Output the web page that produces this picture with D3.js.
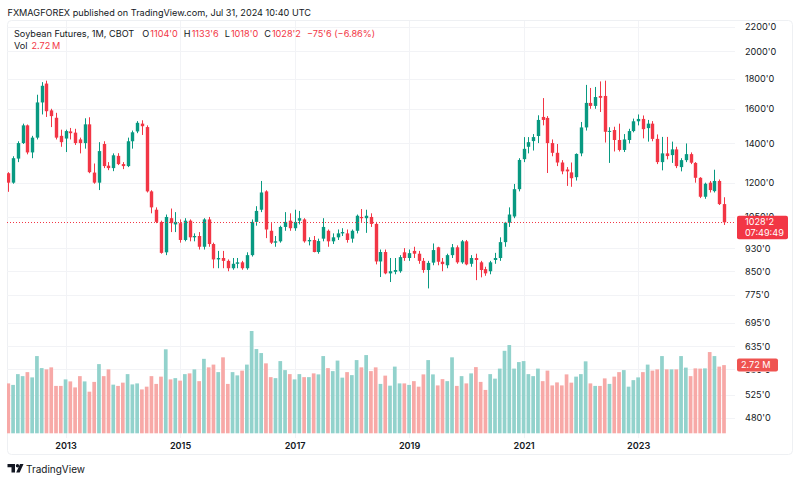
<!DOCTYPE html>
<html><head><meta charset="utf-8">
<script src="https://cdn.jsdelivr.net/npm/d3@7"></script>
<style>html,body{margin:0;padding:0;background:#fff;}svg{display:block;font-family:Inter,"Noto Sans",sans-serif;}</style>
</head><body><svg id="c" width="800" height="482"></svg>
<script>
// ---- data (monthly, Jan 2012 .. Jul 2024) ----
const startYear = 2012;
const opens = [
1245,1200,1318,1400,1500,1350,1430,1640,1765,1590,1545,1440,
1425,1465,1458,1420,1400,1506,1248,1200,1395,1282,1270,1332,
1290,1280,1410,1465,1510,1490,1160,1080,1030,915,1045,1020,
1025,960,1035,970,975,935,1040,945,890,895,885,860,
875,880,860,905,1030,1080,1160,995,950,955,1010,1035,
1005,1035,1040,955,960,916,965,995,955,970,985,985,
965,995,1050,1045,1050,1022,883,916,843,848,850,915,
895,920,910,885,854,879,933,882,870,905,933,880,
955,875,895,880,857,850,888,895,952,1027,1052,1170,
1315,1380,1411,1439,1550,1544,1400,1348,1298,1263,1249,1226,
1345,1488,1637,1618,1682,1682,1463,1473,1417,1363,1417,1467,
1524,1538,1484,1510,1423,1300,1345,1336,1366,1275,1310,1341,
1296,1223,1136,1200,1161,1208,1104];
const highs = [
1250,1330,1410,1510,1505,1440,1690,1775,1785,1600,1575,1475,
1475,1485,1480,1430,1542,1548,1293,1405,1410,1300,1345,1346,
1300,1430,1470,1525,1530,1500,1165,1090,1035,1060,1085,1070,
1040,1045,1040,985,990,1045,1050,950,920,920,890,895,
895,885,915,1040,1095,1208,1165,1025,975,1015,1070,1065,
1080,1075,1045,970,975,965,1045,1000,985,1000,1005,1000,
1000,1060,1083,1080,1065,1030,925,925,895,895,905,930,
925,935,920,895,885,947,935,895,910,945,940,960,
960,905,910,885,865,885,913,970,1030,1090,1194,1320,
1433,1433,1450,1560,1668,1555,1420,1395,1310,1275,1298,1345,
1520,1756,1735,1742,1780,1785,1489,1492,1510,1450,1480,1540,
1565,1559,1532,1525,1448,1434,1434,1408,1380,1320,1398,1350,
1300,1226,1200,1208,1262,1215,1133.75];
const lows = [
1158,1195,1300,1395,1340,1320,1420,1565,1550,1490,1420,1380,
1352,1420,1390,1345,1370,1245,1195,1166,1270,1260,1255,1285,
1265,1275,1370,1455,1445,1155,1065,1025,910,905,990,990,
950,955,955,955,925,925,935,860,860,860,850,855,
860,855,855,900,1015,1070,967,945,935,950,995,995,
995,1020,950,940,915,910,955,935,945,960,975,950,
950,985,1030,987,1010,873,831,840,815,840,845,885,
885,895,875,845,795,870,870,850,860,895,875,875,
870,865,821,830,835,840,875,885,935,1010,1045,1160,
1300,1345,1360,1400,1500,1246,1330,1280,1240,1185,1181,1210,
1330,1470,1600,1600,1580,1403,1296,1355,1355,1352,1398,1460,
1500,1426,1408,1410,1290,1259,1314,1296,1270,1254,1300,1290,
1200,1130,1127,1155,1155,1100,1018];
const closes = [
1200,1320,1400,1500,1350,1430,1640,1750,1585,1555,1430,1405,
1467,1455,1400,1400,1506,1250,1200,1357,1280,1270,1335,1290,
1280,1410,1460,1515,1495,1160,1090,1030,913,1050,1025,1030,
960,1035,970,975,935,1040,945,890,895,885,860,875,
880,860,905,1030,1075,1155,1000,950,955,1010,1030,1005,
1030,1045,955,960,916,956,1010,955,970,985,990,960,
995,1055,1045,1055,1022,883,916,843,850,854,898,895,
912,910,885,854,878,923,882,874,905,933,880,955,
873,895,888,854,843,880,895,952,1027,1060,1170,1311,
1369,1405,1433,1532,1532,1400,1348,1298,1254,1254,1221,1342,
1488,1637,1618,1675,1670,1463,1468,1417,1363,1420,1467,1524,
1538,1478,1510,1423,1300,1345,1331,1366,1280,1310,1341,1297,
1223,1136,1195,1166,1208,1104,1028.25];
// volume in millions
const volumes = [
1.99,1.93,2.36,2.28,2.44,2.23,3.08,2.60,2.55,2.63,1.89,1.89,
2.15,2.07,1.83,2.28,2.07,1.66,2.05,2.76,2.28,2.55,1.94,1.89,
2.02,2.36,1.95,1.99,1.75,1.86,2.28,1.97,2.26,3.35,2.15,2.20,
2.10,2.36,2.39,2.55,2.08,2.97,2.63,2.74,2.44,3.03,1.97,2.44,
2.31,2.50,2.74,4.08,3.36,3.20,2.79,2.24,2.20,2.88,2.52,2.36,
2.15,2.36,2.24,2.24,2.39,2.35,3.08,2.60,2.48,2.90,2.22,2.44,
2.32,2.92,2.63,3.12,2.48,2.63,1.97,2.30,1.90,2.66,1.99,1.99,
1.93,2.08,1.86,2.35,2.92,2.35,1.91,2.16,2.08,3.03,1.89,2.28,
1.99,2.39,2.64,2.05,1.73,2.36,2.18,2.58,3.29,3.52,2.58,2.84,
2.88,2.36,2.28,2.58,2.08,2.50,1.91,2.03,1.91,2.35,2.02,2.26,
2.36,2.87,1.99,1.89,1.89,2.19,1.97,2.26,2.44,2.52,1.86,2.12,
2.23,2.44,2.74,2.50,2.55,3.08,2.55,2.55,2.55,3.08,2.62,2.28,
2.59,2.58,2.59,3.24,3.08,2.66,2.72];
const priceTicks = [2200,2000,1800,1600,1400,1200,1050,930,850,775,695,635,580,525,480];
const yearLabels = ["2013","2015","2017","2019","2021","2023"];
const headerText = "FXMAGFOREX published on TradingView.com, Jul 31, 2024 10:40 UTC";
const symbolText = "Soybean Futures, 1M, CBOT";
const countdown = "07:49:49";

// ---- setup ----
const UP = "#089981", DN = "#f23645", UPV = "#92d2cc", DNV = "#f7a9a7", TXT = "#131722";
const FS = 9.15;
const n = closes.length;
const data = d3.range(n).map(i => ({i, o: opens[i], h: highs[i], l: lows[i], c: closes[i], v: volumes[i]}));
const svg = d3.select("#c");
const fmt = p => { const a = Math.abs(p); let i = Math.floor(a + 1e-9); let f = Math.round((a - i) * 8); if (f === 8) { i++; f = 0; } return (p < 0 ? "\u2212" : "") + i + "'" + f; };

const x = d3.scaleLinear().domain([0, n - 1]).range([8.3, 724]);
const y = d3.scaleLog().domain([480, 2200]).range([418, 27]);
const yv = d3.scaleLinear().domain([0, 4.08]).range([433.3, 331]);

const plotL = 7, plotR = 735, plotT = 21, plotB = 438;
const defs = svg.append("defs");
defs.append("clipPath").attr("id", "pc")
  .append("rect").attr("x", plotL).attr("y", plotT).attr("width", plotR - plotL).attr("height", plotB - plotT);

// frame
svg.append("rect").attr("x", 7.5).attr("y", 20.5).attr("width", 785).attr("height", 434).attr("rx", 4)
  .attr("fill", "none").attr("stroke", "#eef0f3");

// header
svg.append("text").attr("x", 7.5).attr("y", 15.5).attr("font-size", FS).attr("fill", TXT).text(headerText);

// grid
const grid = svg.append("g").attr("clip-path", "url(#pc)");
grid.selectAll("line.h").data(priceTicks).join("line")
  .attr("x1", plotL).attr("x2", plotR).attr("y1", d => Math.round(y(d)) + 0.5).attr("y2", d => Math.round(y(d)) + 0.5)
  .attr("stroke", "#f2f3f6");
const yearIdx = yearLabels.map(s => (+s - startYear) * 12);
grid.selectAll("line.v").data(yearIdx).join("line")
  .attr("x1", d => Math.round(x(d)) + 0.5).attr("x2", d => Math.round(x(d)) + 0.5).attr("y1", plotT).attr("y2", plotB)
  .attr("stroke", "#f2f3f6");

const plot = svg.append("g").attr("clip-path", "url(#pc)");
// volume
const vw = 3.7;
plot.selectAll("rect.vol").data(data).join("rect")
  .attr("x", d => x(d.i) - vw / 2).attr("width", vw)
  .attr("y", d => yv(d.v)).attr("height", d => yv(0) - yv(d.v))
  .attr("fill", d => d.c >= d.o ? UPV : DNV);

// candles
const cw = 3.4;
plot.selectAll("line.wick").data(data).join("line")
  .attr("x1", d => Math.round(x(d.i)) + 0.5).attr("x2", d => Math.round(x(d.i)) + 0.5)
  .attr("y1", d => y(d.h)).attr("y2", d => y(d.l))
  .attr("stroke", d => d.c >= d.o ? UP : DN).attr("stroke-width", 1);
plot.selectAll("rect.body").data(data).join("rect")
  .attr("x", d => Math.round(x(d.i)) + 0.5 - cw / 2).attr("width", cw)
  .attr("y", d => y(Math.max(d.o, d.c))).attr("height", d => Math.max(1, Math.abs(y(d.o) - y(d.c))))
  .attr("fill", d => d.c >= d.o ? UP : DN);

// last price dotted line
const last = data[n - 1];
plot.append("line").attr("x1", plotL).attr("x2", plotR).attr("y1", Math.round(y(last.c)) + 0.5).attr("y2", Math.round(y(last.c)) + 0.5)
  .attr("stroke", DN).attr("stroke-dasharray", "1,2");

// label boxes geometry (used to clip the axis texts they cover)
const py = y(last.c), vy = yv(last.v);
const pBox = {x: 737, y: py - 6.5, w: 51, h: 23.5};
const vBox = {x: 737, y: vy - 6.5, w: 41, h: 13};

// price axis
const ya = d3.axisRight(y).tickValues(priceTicks).tickFormat(fmt).tickSize(0).tickPadding(0);
const yg = svg.append("g").attr("transform", "translate(745,0)").call(ya);
yg.select(".domain").remove();
yg.selectAll("text").attr("font-size", FS).attr("fill", TXT).attr("font-family", 'Inter,"Noto Sans",sans-serif');
// ticks partly covered by a label box: keep only visible part
yg.selectAll(".tick").each(function(d) {
  const ty = y(d);
  const cover = [pBox, vBox].find(b => ty > b.y - 6 && ty < b.y + b.h + 6);
  if (cover) {
    const id = "clip" + d;
    const cp = defs.append("clipPath").attr("id", id);
    // visible band above and below the box, in tick-local coordinates
    cp.append("rect").attr("x", -10).attr("y", -20).attr("width", 60).attr("height", Math.max(0, cover.y - ty + 20));
    cp.append("rect").attr("x", -10).attr("y", cover.y + cover.h - ty).attr("width", 60).attr("height", 20);
    d3.select(this).select("text").attr("clip-path", "url(#" + id + ")");
  }
});

// time axis
const xa = d3.axisBottom(x).tickValues(yearIdx).tickFormat((d, i) => yearLabels[i]).tickSize(0).tickPadding(0);
const xg = svg.append("g").attr("transform", "translate(0,442)").call(xa);
xg.select(".domain").remove();
xg.selectAll("text").attr("font-size", FS).attr("font-weight", 600).attr("fill", TXT).attr("font-family", 'Inter,"Noto Sans",sans-serif');

// price label
svg.append("rect").attr("x", pBox.x).attr("y", pBox.y).attr("width", pBox.w).attr("height", pBox.h).attr("rx", 2).attr("fill", DN);
svg.append("text").attr("x", 745).attr("y", py + 3).attr("font-size", FS).attr("fill", "#fff").text(fmt(last.c));
svg.append("text").attr("x", 745).attr("y", py + 13.5).attr("font-size", FS).attr("fill", "#fff").text(countdown);
// volume label
svg.append("rect").attr("x", vBox.x).attr("y", vBox.y).attr("width", vBox.w).attr("height", vBox.h).attr("rx", 2).attr("fill", "#ef5350");
svg.append("text").attr("x", 741).attr("y", vy + 3.3).attr("font-size", FS).attr("fill", "#fff").text(last.v.toFixed(2) + " M");

// legend, laid out left to right
const prev = data[n - 2];
const chg = last.c - prev.c, pct = chg / prev.c * 100;
const lg = svg.append("g").attr("font-size", FS);
let cx = 14;
function put(g, txt, color, gap, yy) {
  const t = g.append("text").attr("x", cx).attr("y", yy).attr("fill", color).text(txt);
  cx += t.node().getComputedTextLength() + gap;
}
put(lg, symbolText, TXT, 8, 36.5);
[["O", last.o], ["H", last.h], ["L", last.l], ["C", last.c]].forEach(([k, v]) => {
  put(lg, k, TXT, 1, 36.5);
  put(lg, fmt(v), DN, 6, 36.5);
});
put(lg, fmt(chg) + " (" + (pct < 0 ? "\u2212" : "") + Math.abs(pct).toFixed(2) + "%)", DN, 0, 36.5);
cx = 14;
put(lg, "Vol", TXT, 4, 48.5);
put(lg, last.v.toFixed(2) + "\u2009M", DN, 0, 48.5);

// TradingView logo
const logo = svg.append("g").attr("transform", "translate(7.5,464)").attr("fill", TXT);
logo.append("path").attr("d", "M0 0H7.5V8.5H4V3.3H0Z");
logo.append("circle").attr("cx", 10).attr("cy", 1.7).attr("r", 1.7);
logo.append("path").attr("d", "M12.5 0H16L12.2 8.5H8.7Z");
svg.append("text").attr("x", 26).attr("y", 473).attr("font-size", 10).attr("fill", TXT).text("TradingView");
</script></body></html>
